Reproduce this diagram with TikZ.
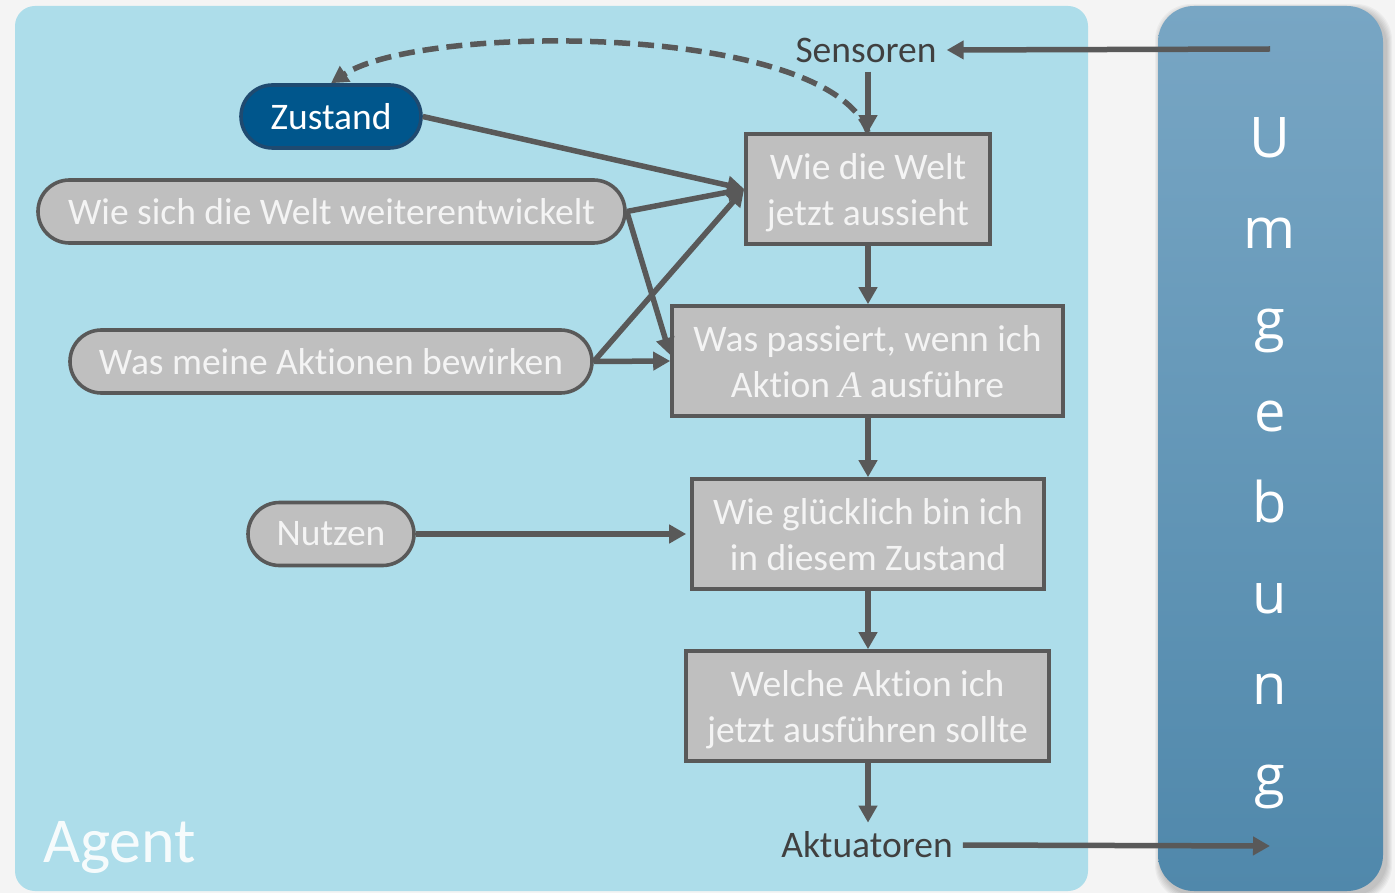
\documentclass[tikz,border=0pt]{standalone}
\usepackage{fontspec}
\setmainfont{Carlito}[Ligatures=CommonOff]
\newfontfamily\envfont{Open Sans}
\newfontfamily\varfont{Liberation Serif}
\usetikzlibrary{arrows.meta,shapes.misc,calc}

\definecolor{pagebg}{HTML}{F4F4F4}
\definecolor{agentbg}{HTML}{ADDDEA}
\definecolor{linegray}{HTML}{595959}
\definecolor{boxgray}{HTML}{BFBFBF}
\definecolor{boxtext}{HTML}{F4F4F4}
\definecolor{statefill}{HTML}{00568C}
\definecolor{stateline}{HTML}{1F4A70}
\definecolor{envtop}{HTML}{78A6C4}
\definecolor{envbottom}{HTML}{5088AB}
\definecolor{labeltext}{HTML}{404040}

\begin{document}
\begin{tikzpicture}[x=1pt,y=-1pt,
  every node/.style={font=\fontsize{37.5}{46}\selectfont},
  procbox/.style={draw=linegray, line width=3.6pt, fill=boxgray, text=boxtext,
    align=center, minimum height=110pt, inner sep=0pt, text depth=0pt},
  pill/.style={rounded rectangle, draw=linegray, line width=3.6pt, fill=boxgray,
    text=boxtext, minimum height=63pt, inner sep=0pt},
  statepill/.style={pill, fill=statefill, draw=stateline, text=white},
  iolabel/.style={text=labeltext, inner xsep=10pt, inner ysep=9pt},
  flow/.style={draw=linegray, line width=5.5pt, -{Triangle[length=17pt,width=18pt]}},
  feedback/.style={flow, dash pattern=on 16pt off 8pt},
  envletter/.style={anchor=base, text=white, inner sep=0pt,
    font=\envfont\fontsize{56}{60}\selectfont},
]
% page and panels
\fill[pagebg] (0,0) rectangle (1395,893);
\useasboundingbox (0,0) rectangle (1395,893);
\fill[agentbg, rounded corners=20pt] (15,6) rectangle (1088,891);

% environment panel with a soft shadow
\foreach \k in {1,...,6}
  \fill[black, opacity=0.035, rounded corners=36pt]
    (1158-\k+3,6-\k+4) rectangle (1383+\k+3,891+\k+4);
\shade[top color=envtop, bottom color=envbottom, rounded corners=36pt]
  (1158,6) rectangle (1383,891);
\foreach \l [count=\i] in {U,m,g,e,b,u,n,g}
  \node[envletter] (env\i) at (1270,158+91*\i-91) {\l};

\node[anchor=base west, inner sep=0pt, text=white, text opacity=0.9,
  font=\fontsize{64}{70}\selectfont] (agent) at (43,862) {Agent};

% processing chain
\node[procbox, minimum width=244pt] (b1) at (868,189) {Wie die Welt\\jetzt aussieht};
\node[procbox, minimum width=391pt] (b2) at (867.5,361) {Was passiert, wenn ich\\Aktion {\varfont\itshape A} ausführe};
\node[procbox, minimum width=352pt] (b3) at (868,534) {Wie glücklich bin ich\\in diesem Zustand};
\node[procbox, minimum width=363pt] (b4) at (867.5,706) {Welche Aktion ich\\jetzt ausführen sollte};

% knowledge
\node[statepill, minimum width=180pt] (zst) at (331,116.5) {Zustand};
\node[pill, minimum width=587pt] (welt) at (331.5,211.5) {Wie sich die Welt weiterentwickelt};
\node[pill, minimum width=522pt] (akt) at (331,361.5) {Was meine Aktionen bewirken};
\node[pill, minimum width=166pt] (nutz) at (331,534) {Nutzen};

% sensors and actuators
\node[iolabel] (sens) at (866,50) {Sensoren};
\node[iolabel] (aktu) at (867,845) {Aktuatoren};
\coordinate (envin) at (1270,49);
\coordinate (envout) at (1270,846);

% connectors
\draw[flow] (envin) -- (sens.east);
\draw[flow] (b1.north |- sens.south) -- (b1.north);
\draw[feedback] (b1.north) .. controls +(-40,-110) and +(90,-60) .. (zst.north);
\draw[flow] (zst.east) -- (b1.west);
\draw[flow] (welt.east) -- (b1.west);
\draw[flow] (welt.east) -- ($(b2.west)+(0,-6)$);
\draw[flow] (akt.east) -- (b1.west);
\draw[flow] (akt.east) -- (b2.west);
\draw[flow] (b1.south) -- (b2.north -| b1.south);
\draw[flow] (b2.south -| b1.south) -- (b3.north -| b1.south);
\draw[flow] (nutz.east) -- ($(b3.west)+(-4,0)$);
\draw[flow] (b3.south -| b1.south) -- (b4.north -| b1.south);
\draw[flow] (b4.south -| b1.south) -- (aktu.north -| b1.south);
\draw[flow] (aktu.east) -- (envout);
\end{tikzpicture}
\end{document}
